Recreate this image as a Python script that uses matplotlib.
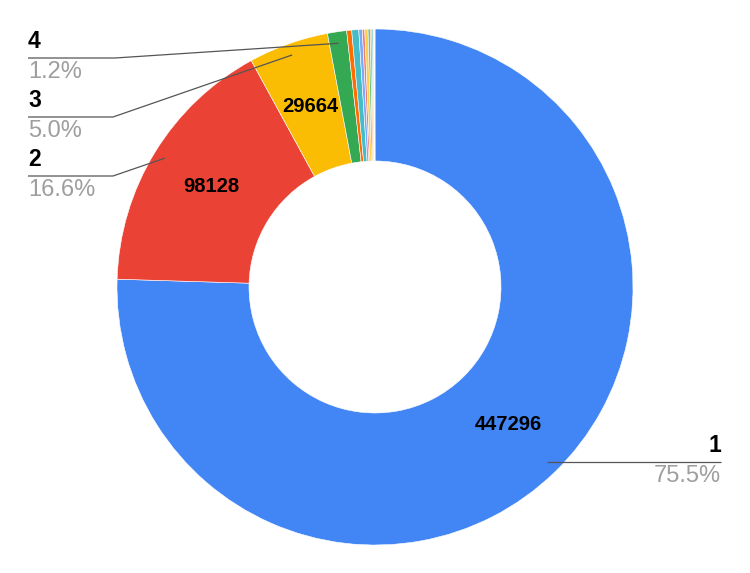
import numpy as np
import matplotlib
matplotlib.use('Agg')
import matplotlib.pyplot as plt

plt.rcParams['font.family'] = ['Liberation Sans', 'DejaVu Sans']

# slice data
names = ['1', '2', '3', '4', '5', '6', '7', '8', '9', '10', '11', '12', '13', '14', '15']
values = [447296, 98128, 29664, 7100, 1850, 2600, 1300, 900, 1200, 800, 600, 500, 300, 200, 150]
colors = ['#4285F4', '#EA4335', '#FBBC04', '#34A853', '#FF6D01', '#46BDC6', '#7BAAF7',
          '#F07B72', '#FCD04F', '#71C287', '#FF994D', '#7ED1D7', '#A0C3FF', '#F4A49E', '#FDDB7E']

W, H = 750, 573
fig = plt.figure(figsize=(W / 100, H / 100), dpi=100)
ax = fig.add_axes([0, 0, 1, 1])

cx, cy = 375, 287
r_out, r_in = 258, 126

# pie with y axis flipped: counterclock=True draws clockwise on screen
wedges, _ = ax.pie(values, colors=colors, startangle=-90, counterclock=True,
                   center=(cx, cy), radius=r_out, frame=True,
                   wedgeprops=dict(width=r_out - r_in, edgecolor='white', linewidth=0.4))
ax.set_xlim(0, W)
ax.set_ylim(H, 0)
ax.axis('off')

total = float(sum(values))


def point(w, r):
    a = np.deg2rad((w.theta1 + w.theta2) / 2)
    return cx + r * np.cos(a), cy + r * np.sin(a)


# numbers inside
for i, w in enumerate(wedges[:3]):
    x, y = point(w, (r_out + r_in) / 2)
    ax.text(x, y, str(values[i]), ha='center', va='center', fontsize=14.5,
            fontweight='bold', color='black')

# outside labels: (elbow x, line y, text x, align)
label_layout = {
    0: (None, 462, 721, 'right'),
    1: (113, 176, 28, 'left'),
    2: (113, 117, 28, 'left'),
    3: (115, 58, 28, 'left'),
}
for i, (ex, ly, tx, ha) in label_layout.items():
    sx, sy = point(wedges[i], 0.955 * r_out)
    if ex is None:
        xs, ys = [sx, tx], [ly, ly]
    else:
        xs, ys = [sx, ex, tx], [sy, ly, ly]
    ax.plot(xs, ys, color='#555555', lw=0.9, solid_capstyle='butt')
    ax.text(tx, ly - 5, names[i], ha=ha, va='bottom', fontsize=16.5,
            fontweight='bold', color='black')
    pct = values[i] / total * 100
    ax.text(tx, ly + 3, '%.1f%%' % pct, ha=ha, va='top', fontsize=17,
            color='#9E9E9E')

fig.savefig('out.png', dpi=100)
